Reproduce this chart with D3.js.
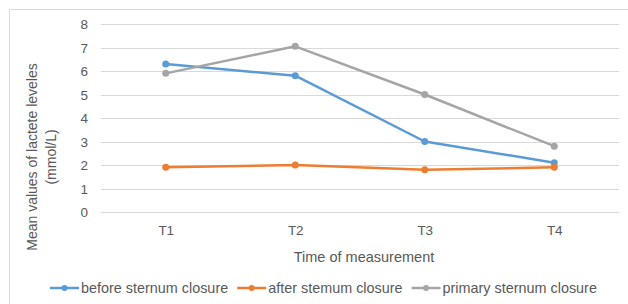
<!DOCTYPE html>
<html><head><meta charset="utf-8">
<script src="https://cdn.jsdelivr.net/npm/d3@7"></script>
<style>body{margin:0;background:#fff}svg{display:block;font-family:"Liberation Sans",Arial,sans-serif}</style>
</head><body><svg id="c" width="628" height="304"></svg>
<script>
const categories = ["T1","T2","T3","T4"];
const seriesNames = ["before sternum closure","after stemum closure","primary sternum closure"];
const beforeValues = [6.3, 5.8, 3.0, 2.1];
const afterValues = [1.9, 2.0, 1.8, 1.9];
const primaryValues = [5.9, 7.05, 5.0, 2.8];
const yTicks = [0,1,2,3,4,5,6,7,8];
const colors = ["#5b9bd5","#ed7d31","#a5a5a5"];
const series = [beforeValues, afterValues, primaryValues];

const svg = d3.select("#c");
const txt = "#595959";
svg.append("path").attr("d","M9.5,304 V9.5 H628").attr("fill","none").attr("stroke","#d9d9d9");

const x = d3.scalePoint().domain(categories).range([101,619]).padding(0.5);
const y = d3.scaleLinear().domain([0,8]).range([212,24]);

svg.append("g").selectAll("line").data(yTicks).join("line")
  .attr("x1",101).attr("x2",619).attr("y1",d=>Math.round(y(d))+0.5).attr("y2",d=>Math.round(y(d))+0.5)
  .attr("stroke","#d9d9d9").attr("stroke-width",1);

const yAxis = svg.append("g").attr("transform","translate(88,0)")
  .call(d3.axisLeft(y).tickValues(yTicks).tickSize(0).tickPadding(0));
yAxis.select(".domain").remove();
yAxis.selectAll("text").attr("fill",txt).attr("font-size",13.5).attr("font-family","Liberation Sans, Arial, sans-serif").attr("dy","0.35em");

const xAxis = svg.append("g").attr("transform","translate(0,222)")
  .call(d3.axisBottom(x).tickSize(0).tickPadding(0));
xAxis.select(".domain").remove();
xAxis.selectAll("text").attr("fill",txt).attr("font-size",13.5).attr("font-family","Liberation Sans, Arial, sans-serif").attr("dy","0.95em");

svg.append("text").attr("x",364).attr("y",262).attr("text-anchor","middle").attr("fill",txt).attr("font-size",14.5).text("Time of measurement");
const yt = svg.append("text").attr("transform","translate(37,157) rotate(-90)").attr("text-anchor","middle").attr("fill",txt).attr("font-size",14);
yt.append("tspan").attr("x",0).attr("dy",0).text("Mean values of lactete leveles");
yt.append("tspan").attr("x",0).attr("dy",19).text("(mmol/L)");

const line = d3.line().x((d,i)=>x(categories[i])).y(d=>y(d));
series.forEach((s,k)=>{
  svg.append("path").datum(s).attr("d",line).attr("fill","none").attr("stroke",colors[k]).attr("stroke-width",2.5).attr("stroke-linejoin","round");
  svg.selectAll(null).data(s).join("circle").attr("cx",(d,i)=>x(categories[i])).attr("cy",d=>y(d)).attr("r",3.5).attr("fill",colors[k]);
});

const leg = svg.append("g");
let lx = 50;
seriesNames.forEach((n,k)=>{
  leg.append("line").attr("x1",lx).attr("x2",lx+29).attr("y1",288).attr("y2",288).attr("stroke",colors[k]).attr("stroke-width",2.5);
  leg.append("circle").attr("cx",lx+14.5).attr("cy",288).attr("r",3).attr("fill",colors[k]);
  const t = leg.append("text").attr("x",lx+31).attr("y",293).attr("fill",txt).attr("font-size",14.4).text(n);
  lx += 31 + t.node().getComputedTextLength() + 9;
});
</script></body></html>
